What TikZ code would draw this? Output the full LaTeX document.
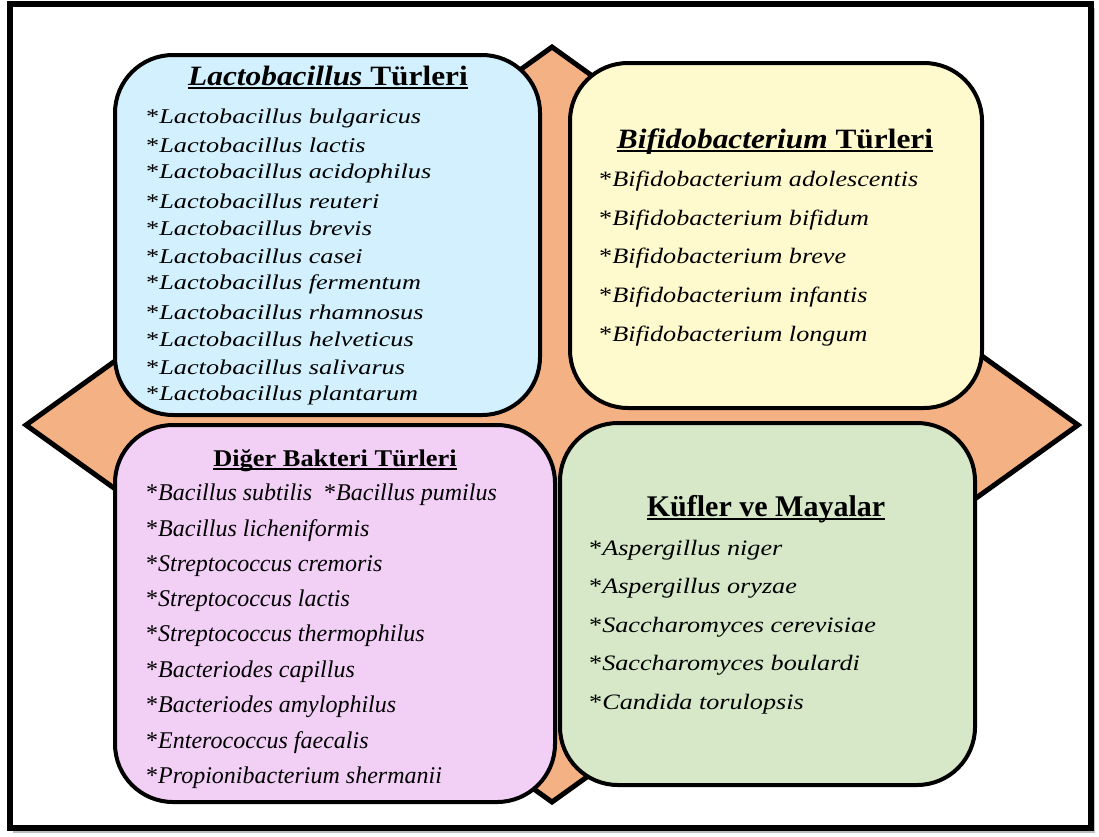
\documentclass[tikz,border=0pt]{standalone}
\usepackage{fontspec}
\setmainfont{Liberation Serif}
\newfontfamily\fA[FakeStretch=1.25]{Liberation Serif}
\newfontfamily\fB[FakeStretch=1.19]{Liberation Serif}
\newfontfamily\fT[FakeStretch=1.12]{Liberation Serif}
\newfontfamily\fD[FakeStretch=1.1]{Liberation Serif}
\definecolor{orng}{HTML}{F4B183}
\definecolor{bluef}{HTML}{D2F0FE}
\definecolor{yelf}{HTML}{FFF9CE}
\definecolor{pinkf}{HTML}{F2D0F6}
\definecolor{grnf}{HTML}{D6E8C8}
\newcommand\myul[1]{\setbox0\hbox{#1}\rlap{\rule[-4pt]{\wd0}{1.8pt}}\box0}
\tikzset{
  box/.style={draw=black, line width=4pt, rounded corners=58pt, inner sep=0pt},
  ttl/.style={anchor=base, inner sep=0pt, font=\fT\fontsize{28}{30}\selectfont\bfseries},
  itm/.style={anchor=west, inner sep=0pt, font=\fA\fontsize{21}{25}\selectfont},
}
\begin{document}
\begin{tikzpicture}[x=1pt,y=-1pt]
\useasboundingbox (0,0) rectangle (1099,836);
\fill[black!25] (13,8) rectangle (1095,833);
\draw[line width=6pt, fill=white] (10,4) rectangle (1091,828);
% diamond
\coordinate (dt) at (552,47);
\coordinate (dl) at (26,425);
\coordinate (dr) at (1078,425);
\coordinate (db) at (552,802);
\draw[line width=5pt, line join=miter, fill=orng] (dt) -- (dr) -- (db) -- (dl) -- cycle;
% boxes
\draw[box, fill=bluef] (115,55) rectangle (540,415);
\draw[box, fill=yelf] (570,63) rectangle (982,408);
\draw[box, fill=pinkf] (115,425) rectangle (555,802);
\draw[box, fill=grnf] (560,423) rectangle (975,785);
% titles
\node[ttl] (t1) at (328,85) {\myul{\textit{Lactobacillus} Türleri}};
\node[ttl] (t2) at (775,148) {\myul{\textit{Bifidobacterium} Türleri}};
\node[ttl, font=\fD\fontsize{24}{26}\selectfont\bfseries] (t3) at (335,466) {\myul{Diğer Bakteri Türleri}};
\node[ttl, font=\fontsize{30}{32}\selectfont\bfseries] (t4) at (766,516) {\myul{Küfler ve Mayalar}};
% lactobacillus
\foreach \n [count=\i from 0] in {bulgaricus,lactis,acidophilus,reuteri,brevis,casei,fermentum,rhamnosus,helveticus,salivarus,plantarum}
  \node[itm] (l\i) at (146,118+27.7*\i) {*\textit{Lactobacillus \n}};
\foreach \n [count=\i from 0] in {adolescentis,bifidum,breve,infantis,longum}
  \node[itm, font=\fB\fontsize{22}{25}\selectfont] (b\i) at (599,181+38.7*\i) {*\textit{Bifidobacterium \n}};
\node[itm, font=\fontsize{24}{26}\selectfont] (d0) at (146,495) {*\textit{Bacillus subtilis}\ \ *\textit{Bacillus pumilus}};
\foreach \n [count=\i from 1] in {Bacillus licheniformis,Streptococcus cremoris,Streptococcus lactis,Streptococcus thermophilus,Bacteriodes capillus,Bacteriodes amylophilus,Enterococcus faecalis,Propionibacterium shermanii}
  \node[itm, font=\fontsize{24}{26}\selectfont] (d\i) at (146,495+35.3*\i) {*\textit{\n}};
\foreach \n [count=\i from 0] in {Aspergillus niger,Aspergillus oryzae,Saccharomyces cerevisiae,Saccharomyces boulardi,Candida torulopsis}
  \node[itm, font=\fB\fontsize{22}{25}\selectfont] (k\i) at (589,550+38.5*\i) {*\textit{\n}};
\end{tikzpicture}
\end{document}
